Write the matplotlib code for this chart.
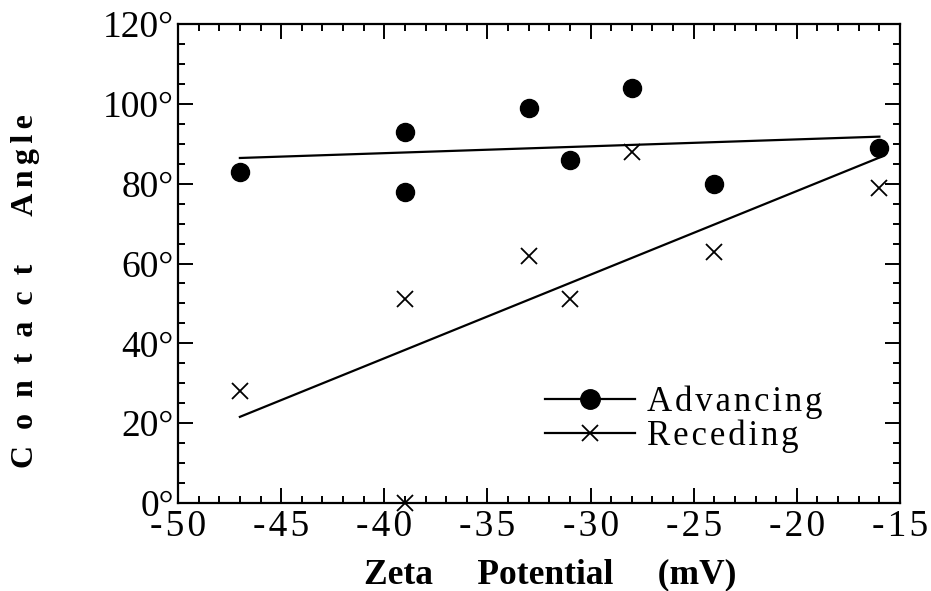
import numpy as np
import matplotlib
matplotlib.use("Agg")
import matplotlib.pyplot as plt
from matplotlib.ticker import MultipleLocator

# ---- data ----
adv_x = [-47, -39, -39, -33, -31, -28, -24, -16]
adv_y = [83, 93, 78, 99, 86, 104, 80, 89]
rec_x = [-47, -39, -39, -33, -31, -28, -24, -16]
rec_y = [28, 51, 0, 62, 51, 88, 63, 79]
x_ticks = [-50, -45, -40, -35, -30, -25, -20, -15]
y_ticks = [0, 20, 40, 60, 80, 100, 120]
series_names = ["Advancing", "Receding"]

plt.rcParams["font.family"] = ["Liberation Serif", "DejaVu Serif"]

HAIR = "\u200a"
EN = "\u2002"
SIX = "\u2006"

fig = plt.figure(figsize=(9.31, 5.91), dpi=100)
ax = fig.add_axes([178 / 931, 88 / 591, (900 - 178) / 931, (503 - 24) / 591])

# linear least-squares fits
fit_span = np.array([min(adv_x), max(adv_x)])
pa = np.polyfit(adv_x, adv_y, 1)
pr = np.polyfit(rec_x, rec_y, 1)
ax.plot(fit_span, np.polyval(pa, fit_span), color="black", lw=1.6, zorder=2)
ax.plot(fit_span, np.polyval(pr, fit_span), color="black", lw=1.6, zorder=2)

ax.plot(adv_x, adv_y, linestyle="none", marker="o", ms=13, color="black",
        clip_on=False, zorder=3)
ax.plot(rec_x, rec_y, linestyle="none", marker="x", ms=12, mew=1.3,
        color="black", clip_on=False, zorder=3)

# legend handles
h1, = ax.plot([], [], color="black", lw=1.6, marker="o", ms=14)
h2, = ax.plot([], [], color="black", lw=1.6, marker="x", ms=12, mew=1.3)
leg = ax.legend([h1, h2], [HAIR.join(s) for s in series_names],
                loc="center left", bbox_to_anchor=(0.508, 0.175),
                frameon=False, fontsize=25, handlelength=2.6,
                handletextpad=0.35, labelspacing=0.0, borderpad=0,
                borderaxespad=0)

ax.set_xlim(-50, -15)
ax.set_ylim(0, 120)
ax.set_xticks(x_ticks)
ax.set_xticklabels([HAIR.join(str(v)) for v in x_ticks])
ax.set_yticks(y_ticks)
ax.set_yticklabels([f"{v}°" for v in y_ticks])
ax.xaxis.set_minor_locator(MultipleLocator(1))
ax.yaxis.set_minor_locator(MultipleLocator(5))

ax.tick_params(which="both", direction="in", top=True, right=True,
               width=1.4, labelsize=27)
ax.tick_params(which="major", length=11)
ax.tick_params(which="minor", length=5)
ax.tick_params(axis="x", pad=5)
ax.tick_params(axis="y", pad=3)
for s in ax.spines.values():
    s.set_linewidth(1.6)

ax.set_xlabel("Zeta     Potential     (mV)", fontsize=25.5, fontweight="bold")
ax.xaxis.set_label_coords((550 - 178) / 722, (503 - 583) / 479)
ax.xaxis.label.set_verticalalignment("baseline")

ylab = EN.join("Contact") + EN * 3 + SIX.join("Angle")
ax.set_ylabel(ylab, fontsize=23, fontweight="bold")
ax.yaxis.set_label_coords((26 - 178) / 722, (503 - 291) / 479)
ax.yaxis.label.set_verticalalignment("center")

fig.savefig("out.png", dpi=100)
